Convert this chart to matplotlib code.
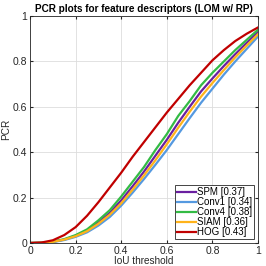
import matplotlib
matplotlib.use("Agg")
import matplotlib.pyplot as plt

plt.rcParams['font.family'] = ['Liberation Sans', 'DejaVu Sans']

iou = [0.0, 0.05, 0.1, 0.15, 0.2, 0.25, 0.3, 0.35, 0.4, 0.45, 0.5,
       0.55, 0.6, 0.65, 0.7, 0.75, 0.8, 0.85, 0.9, 0.95, 1.0]

spm = [0, 0.001, 0.005, 0.015, 0.032, 0.055, 0.09, 0.133, 0.188, 0.25, 0.315,
       0.385, 0.455, 0.53, 0.6, 0.668, 0.725, 0.78, 0.832, 0.882, 0.93]
conv1 = [0, 0.001, 0.004, 0.013, 0.027, 0.047, 0.077, 0.115, 0.165, 0.222, 0.282,
         0.345, 0.41, 0.48, 0.55, 0.618, 0.68, 0.742, 0.8, 0.855, 0.91]
conv4 = [0, 0.001, 0.006, 0.017, 0.035, 0.06, 0.1, 0.145, 0.205, 0.27, 0.335,
         0.41, 0.48, 0.56, 0.625, 0.695, 0.75, 0.8, 0.85, 0.895, 0.94]
siam = [0, 0.001, 0.005, 0.015, 0.03, 0.052, 0.085, 0.125, 0.175, 0.235, 0.298,
        0.365, 0.435, 0.508, 0.578, 0.645, 0.705, 0.762, 0.818, 0.87, 0.92]
hog = [0, 0.002, 0.012, 0.035, 0.07, 0.12, 0.18, 0.245, 0.31, 0.38, 0.445,
       0.51, 0.575, 0.635, 0.695, 0.75, 0.805, 0.85, 0.89, 0.922, 0.95]

labels = ['SPM [0.37]', 'Conv1 [0.34]', 'Conv4 [0.38]', 'SIAM [0.36]', 'HOG [0.43]']
series = [spm, conv1, conv4, siam, hog]
colors = ['#6a1fa0', '#5599e0', '#33bb44', '#ffb31a', '#c00000']

ticks = [0, 0.2, 0.4, 0.6, 0.8, 1]
tick_labels = ['0', '0.2', '0.4', '0.6', '0.8', '1']

fig = plt.figure(figsize=(2.66, 2.66), dpi=100)
ax = fig.add_axes([0.113, 0.0865, 0.857, 0.853])

for ys, lab, c in zip(series, labels, colors):
    ax.plot(iou, ys, color=c, lw=1.6, label=lab)

ax.set_xlim(0, 1)
ax.set_ylim(0, 1)
ax.set_xticks(ticks)
ax.set_xticklabels(tick_labels)
ax.set_yticks(ticks)
ax.set_yticklabels(tick_labels)
ax.grid(True, color='#dddddd', lw=0.6)
ax.set_axisbelow(True)
ax.tick_params(direction='in', length=2.5, labelsize=7.5, colors='#262626', pad=2,
               top=True, right=True)
for s in ax.spines.values():
    s.set_color('#262626')
    s.set_linewidth(0.6)

ax.set_xlabel('IoU threshold', fontsize=7.2, color='#262626', labelpad=0)
ax.set_ylabel('PCR', fontsize=7.2, color='#262626', labelpad=1)
ax.set_title('PCR plots for feature descriptors (LOM w/ RP)', fontsize=7.2,
             fontweight='bold', pad=3)

leg = ax.legend(loc='lower right', fontsize=7, handlelength=2.0,
                handletextpad=0.1, labelspacing=0.0, borderpad=0.2,
                borderaxespad=0.4, fancybox=False, framealpha=1)
leg.get_frame().set_edgecolor('#262626')
leg.get_frame().set_linewidth(0.6)

fig.savefig('out.png', dpi=100)
